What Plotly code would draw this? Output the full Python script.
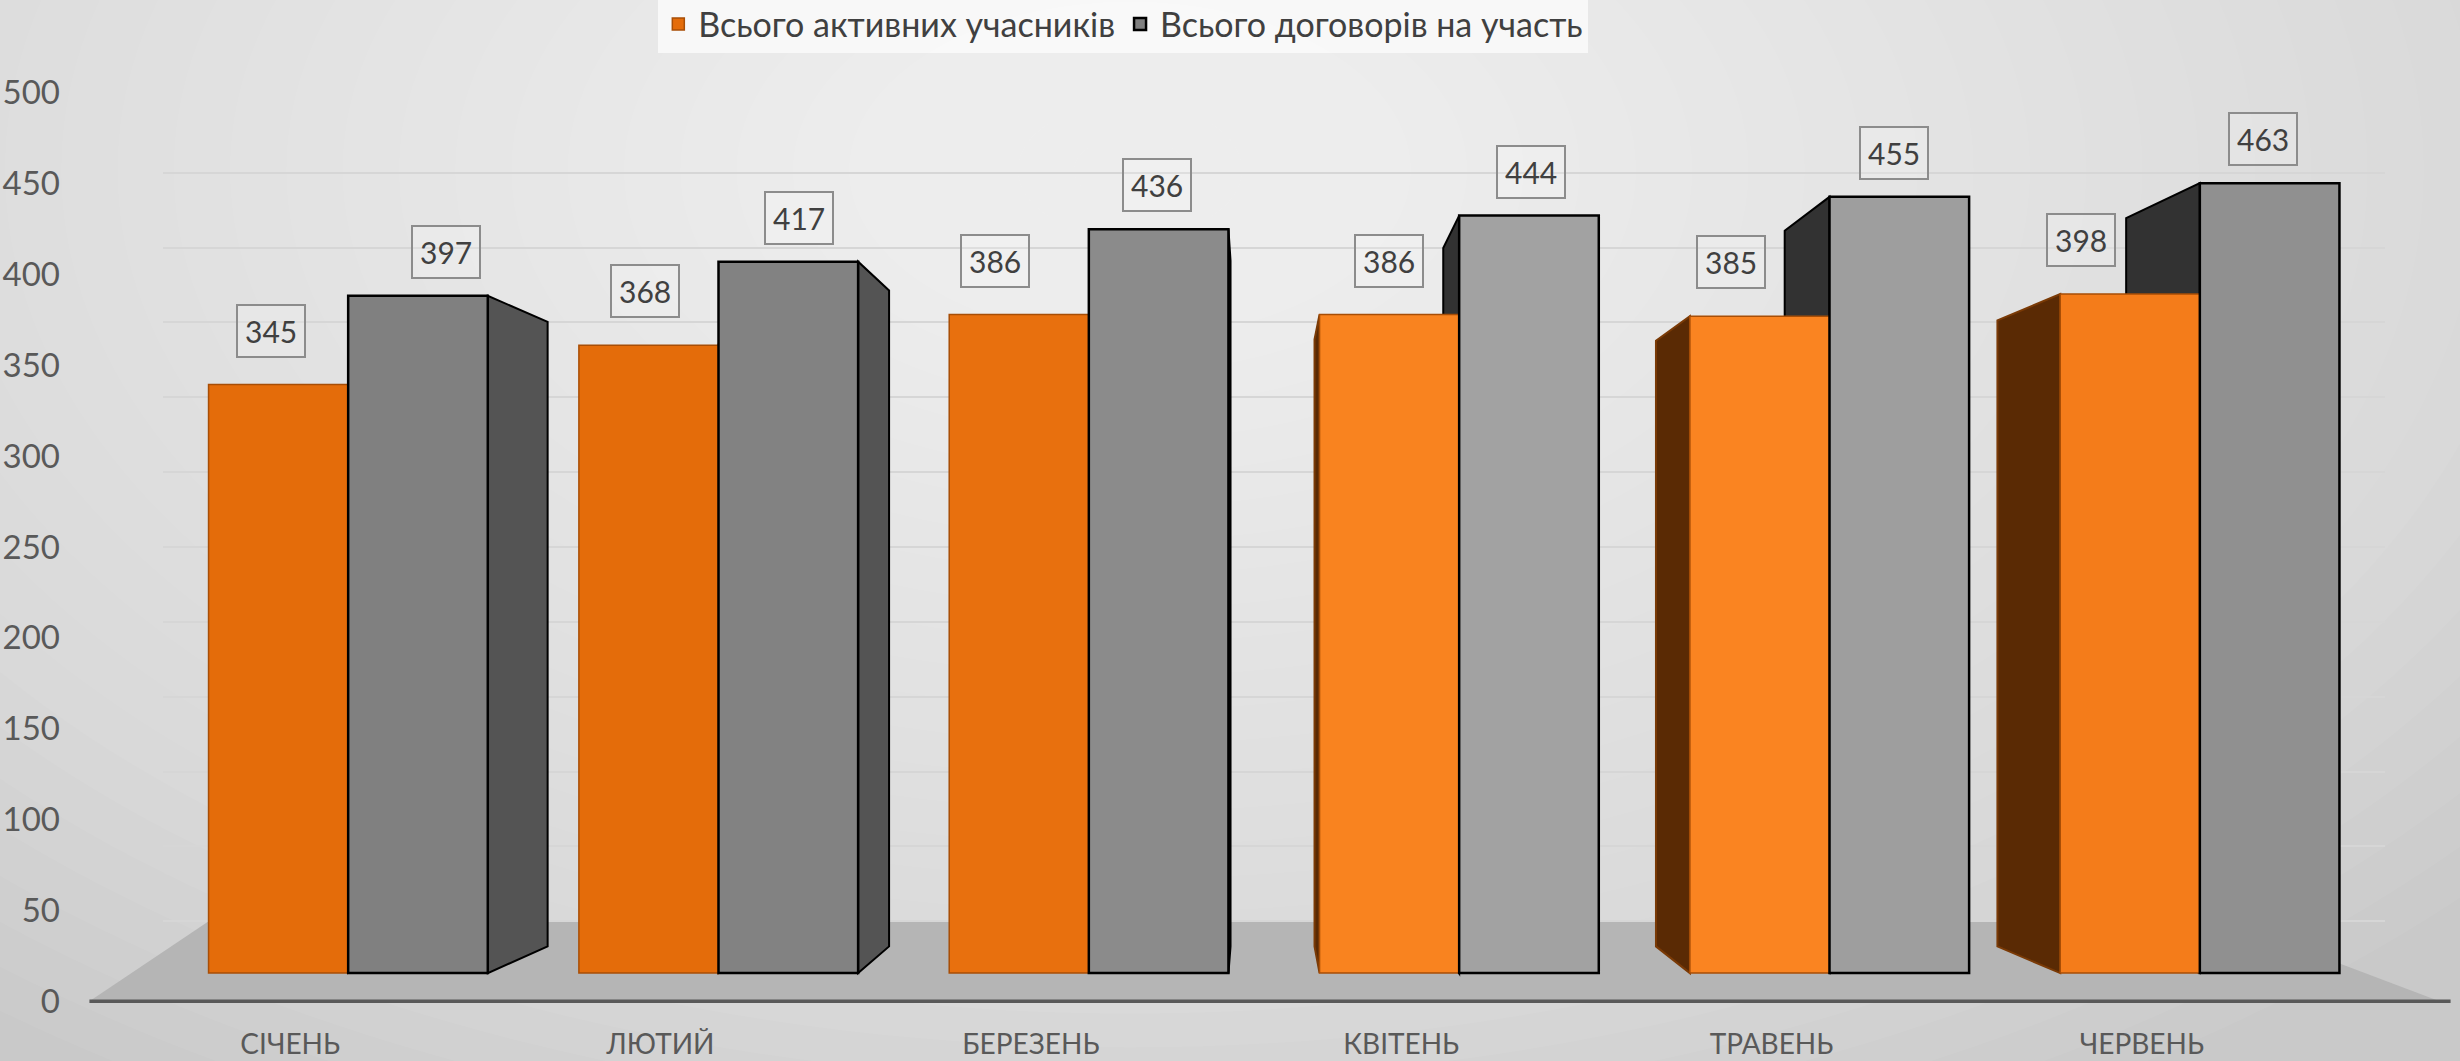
import plotly.graph_objects as go

# ---------------- data ----------------
months = ["СІЧЕНЬ", "ЛЮТИЙ", "БЕРЕЗЕНЬ", "КВІТЕНЬ", "ТРАВЕНЬ", "ЧЕРВЕНЬ"]
active = [345, 368, 386, 386, 385, 398]
contracts = [397, 417, 436, 444, 455, 463]
series_names = ["Всього активних учасників", "Всього договорів на участь"]
y_ticks = [0, 50, 100, 150, 200, 250, 300, 350, 400, 450, 500]

# ---------------- styles ----------------
W, H = 2460, 1061
ML, MR, MT, MB = 60, 75, 60, 57
FONT = "Lato"
orange_cols = ["#E46C0A", "#E46C0A", "#E8700E", "#F9831F", "#FA8421", "#F47C1A"]
gray_cols = ["#808080", "#828282", "#8B8B8B", "#A2A2A2", "#9E9E9E", "#909090"]
BARW = 0.377
VPX, VPY, K = 2.449, 200.6, 0.922   # perspective for side faces
# horizontal nudges of the value boxes (reference display px)
lab_dx_orange = [-5, -2.5, -15.5, 0, -18, -31]
lab_dx_gray = [18, 7, -1, 1.5, -3.5, -4.5]

# reference display frame (1568x676) -> paper helpers for decorations
SX, SY = W / 1568, H / 676
PW, PH = W - ML - MR, H - MT - MB
def px(xd):
    return (xd * SX - ML) / PW
def py(yd):
    return (H - MB - yd * SY) / PH

x_idx = list(range(len(months)))

fig = go.Figure()
fig.add_trace(go.Bar(
    x=x_idx, y=active, name=series_names[0],
    marker=dict(color=orange_cols, line=dict(color="#A84E06", width=1.5)),
    hoverinfo="skip",
))
fig.add_trace(go.Bar(
    x=x_idx, y=contracts, name=series_names[1],
    marker=dict(color=gray_cols, line=dict(color="#000000", width=2.5)),
    hoverinfo="skip",
))
# helper traces for overlay axes (grid axis and label axis)
fig.add_trace(go.Scatter(x=[None], y=[None], yaxis="y2", showlegend=False, hoverinfo="skip"))
fig.add_trace(go.Scatter(x=[None], y=[None], yaxis="y3", showlegend=False, hoverinfo="skip"))

shapes = []
# background radial-ish gradient
cx, cy = 1130, 170
NL = 32
for j in range(NL):
    f = (NL - j) / NL
    rx, ry = 1800 * f, 1080 * f
    shapes.append(dict(type="circle", xref="paper", yref="paper", layer="below",
                       x0=(cx - rx - ML) / PW, x1=(cx + rx - ML) / PW,
                       y0=(H - MB - (cy + ry)) / PH, y1=(H - MB - (cy - ry)) / PH,
                       fillcolor="rgba(255,255,255,0.052)", line=dict(width=0)))
# floor
shapes.append(dict(type="path", xref="paper", yref="paper", layer="below",
                   path=f"M {px(57)},{py(638)} L {px(1555)},{py(638)} L {px(1420)},{py(587)} L {px(133)},{py(587)} Z",
                   fillcolor="#B5B5B5", line=dict(width=0)))
# floor front edge (axis line)
shapes.append(dict(type="line", xref="paper", yref="paper", layer="below",
                   x0=px(57), x1=px(1562), y0=py(638), y1=py(638),
                   line=dict(color="#595959", width=3.5)))

# 3D side faces, derived from data
for vals, offs, kind in [(active, -BARW, "o"), (contracts, 0.0, "g")]:
    for i, h in enumerate(vals):
        left = i + offs
        right = left + BARW
        if right < VPX:
            edge, side = right, "r"
        elif left > VPX:
            edge, side = left, "l"
        else:
            continue
        bx = VPX + (edge - VPX) * K
        bt = VPY + (h - VPY) * K
        bb = VPY * (1 - K)
        if kind == "o":
            fc, lc = "#5A2A04", "#7A3A06"
        else:
            fc, lc = ("#545454" if side == "r" else "#323232"), "#000000"
        shapes.append(dict(type="path", xref="x", yref="y", layer="between",
                           path=f"M {edge},0 L {edge},{h} L {bx},{bt} L {bx},{bb} Z",
                           fillcolor=fc, line=dict(color=lc, width=2)))

# data labels
annotations = []
for vals, offs, ys, dxs in [(active, -BARW / 2, 27, lab_dx_orange),
                            (contracts, BARW / 2, 17, lab_dx_gray)]:
    for i, v in enumerate(vals):
        annotations.append(dict(
            x=i + offs, y=v, xref="x", yref="y", text=str(v), showarrow=False,
            yanchor="bottom", yshift=ys, xshift=dxs[i] * SX,
            font=dict(family=FONT, size=30, color="#404040"),
            bordercolor="#8C8C8C", borderwidth=2, borderpad=7,
            bgcolor="rgba(255,255,255,0.2)",
        ))

# axis ranges (plot area bottom at display y 639.7, top at 38.2)
def rng(y0, sc):
    yb = (H - MB) / SY
    yt = MT / SY
    return [(y0 - yb) / sc, (y0 - yt) / sc]

fig.update_layout(
    width=W, height=H,
    margin=dict(l=ML, r=MR, t=MT, b=MB, autoexpand=False),
    paper_bgcolor="#C9C9C9",
    plot_bgcolor="rgba(0,0,0,0)",
    barmode="group", bargap=0.246, bargroupgap=0,
    font=dict(family=FONT, color="#595959"),
    showlegend=True,
    legend=dict(orientation="h", x=px(716), xanchor="center", y=py(-3), yanchor="top",
                font=dict(family=FONT, size=34, color="#404040"),
                bgcolor="rgba(250,250,250,0.85)", borderwidth=0,
                itemwidth=30, traceorder="normal"),
    xaxis=dict(range=[-0.5, 5.5], domain=[(163 - ML) / PW, 1],
               tickvals=x_idx, ticktext=months, showgrid=False, zeroline=False,
               showline=False, ticks="", tickfont=dict(family=FONT, size=28, color="#595959"),
               ticklabelstandoff=21, ticklabelshift=-58, fixedrange=True),
    yaxis=dict(range=rng(620, 1.087), visible=False, fixedrange=True),
    yaxis2=dict(range=rng(587, 0.954), overlaying="y", tickvals=y_ticks,
                showgrid=True, gridcolor="#D6D6D6", gridwidth=2,
                showticklabels=False, zeroline=False, ticks="", fixedrange=True),
    yaxis3=dict(range=rng(638, 1.158), overlaying="y", anchor="free", position=0,
                tickvals=y_ticks, showgrid=False, zeroline=False, ticks="",
                tickfont=dict(family=FONT, size=33, color="#595959"), fixedrange=True),
    shapes=shapes,
    annotations=annotations,
)

fig.write_html("out.html", config={"displayModeBar": False},
               post_script="document.body.style.margin='0px';document.body.style.overflow='hidden';")
